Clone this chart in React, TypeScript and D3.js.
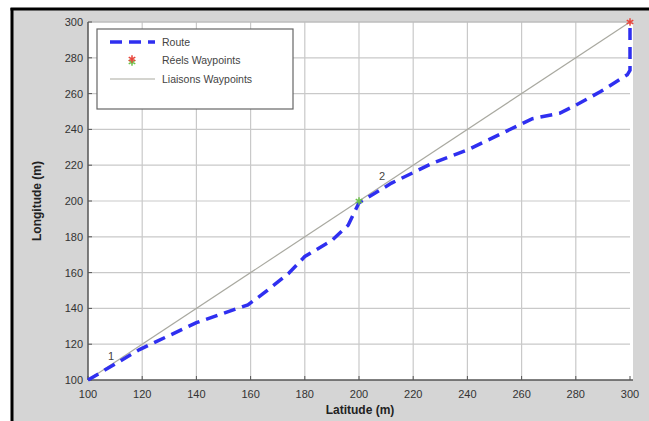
import React, { useEffect, useRef } from "react";
import * as d3 from "d3";

// Route followed between waypoints (latitude, longitude in metres)
const routeLat = [100, 119, 140, 159, 164, 174, 180, 190, 196, 200, 212, 227, 240, 253, 264, 274, 280, 289, 299, 300, 300];
const routeLon = [100, 117, 132, 142, 147.5, 159.5, 169, 178, 186.5, 199, 210, 221, 228.5, 238, 246, 249, 253.5, 261, 270.5, 273, 300];

// Straight links between waypoints
const linkLat = [100, 200, 300];
const linkLon = [100, 200, 300];

// Actual waypoints
const realLat = [200, 300];
const realLon = [200, 300];
const realColor = ["#6cc24a", "#e8453c"];

// Waypoint labels
const wpLabels = ["1", "2"];
const wpLabelLat = [108.5, 208.5];
const wpLabelLon = [113.5, 214];

const xTicks = [100, 120, 140, 160, 180, 200, 220, 240, 260, 280, 300];
const yTicks = [100, 120, 140, 160, 180, 200, 220, 240, 260, 280, 300];

const legendLabels = ["Route", "Réels Waypoints", "Liaisons Waypoints"];

const W = 649;
const H = 421;
const FONT = "'Liberation Sans', Arial, sans-serif";

export default function App() {
  const ref = useRef<SVGSVGElement>(null);

  useEffect(() => {
    document.body.style.margin = "0";
    const svg = d3.select(ref.current);
    svg.selectAll("*").remove();

    const x = d3.scaleLinear().domain([100, 300]).range([88, 630]);
    const y = d3.scaleLinear().domain([100, 300]).range([380, 22]);

    // figure background and frame
    svg.append("rect").attr("width", W).attr("height", H).attr("fill", "#ffffff");
    svg.append("rect").attr("x", 12).attr("y", 9).attr("width", W - 12).attr("height", H - 9).attr("fill", "#d5d5d5");
    svg.append("line").attr("x1", 12).attr("x2", 12).attr("y1", 8).attr("y2", H).attr("stroke", "#000").attr("stroke-width", 3);
    svg.append("line").attr("x1", 10.5).attr("x2", W).attr("y1", 9).attr("y2", 9).attr("stroke", "#000").attr("stroke-width", 3);

    // axes area
    svg.append("rect")
      .attr("x", x(100)).attr("y", y(300))
      .attr("width", x(300) - x(100) + 3).attr("height", y(100) - y(300))
      .attr("fill", "#ffffff");

    // grid
    const grid = svg.append("g");
    grid.selectAll("line.gx").data(xTicks.slice(1, -1)).join("line")
      .attr("x1", (d) => x(d)).attr("x2", (d) => x(d))
      .attr("y1", y(300)).attr("y2", y(100))
      .attr("stroke", "#c9c9c9").attr("stroke-width", 1.2);
    grid.selectAll("line.gy").data(yTicks.slice(1, -1)).join("line")
      .attr("x1", x(100)).attr("x2", x(300))
      .attr("y1", (d) => y(d)).attr("y2", (d) => y(d))
      .attr("stroke", "#c9c9c9").attr("stroke-width", 1.2);

    // axes box
    svg.append("line").attr("x1", x(100)).attr("x2", x(300) + 3).attr("y1", y(300)).attr("y2", y(300)).attr("stroke", "#bdbdbd").attr("stroke-width", 1.5);
    svg.append("line").attr("x1", x(100)).attr("x2", x(300) + 3).attr("y1", y(100)).attr("y2", y(100)).attr("stroke", "#555").attr("stroke-width", 1.5);
    svg.append("line").attr("x1", x(100)).attr("x2", x(100)).attr("y1", y(300)).attr("y2", y(100)).attr("stroke", "#555").attr("stroke-width", 1.5);

    // ticks
    svg.append("g").selectAll("line").data(xTicks).join("line")
      .attr("x1", (d) => x(d)).attr("x2", (d) => x(d))
      .attr("y1", y(100)).attr("y2", y(100) - 4)
      .attr("stroke", "#555");
    svg.append("g").selectAll("line").data(yTicks).join("line")
      .attr("x1", x(100)).attr("x2", x(100) + 4)
      .attr("y1", (d) => y(d)).attr("y2", (d) => y(d))
      .attr("stroke", "#555");

    // tick labels
    svg.append("g").selectAll("text").data(xTicks).join("text")
      .attr("x", (d) => x(d)).attr("y", 398)
      .attr("text-anchor", "middle")
      .attr("font-family", FONT).attr("font-size", 11).attr("fill", "#333")
      .text((d) => d);
    svg.append("g").selectAll("text").data(yTicks).join("text")
      .attr("x", 83).attr("y", (d) => y(d) + 4)
      .attr("text-anchor", "end")
      .attr("font-family", FONT).attr("font-size", 11).attr("fill", "#333")
      .text((d) => d);

    // axis titles
    svg.append("text")
      .attr("x", 360).attr("y", 414)
      .attr("text-anchor", "middle")
      .attr("font-family", FONT).attr("font-size", 12).attr("font-weight", "bold").attr("fill", "#222")
      .text("Latitude (m)");
    svg.append("text")
      .attr("transform", `translate(41,${y(200)}) rotate(-90)`)
      .attr("text-anchor", "middle")
      .attr("font-family", FONT).attr("font-size", 12).attr("font-weight", "bold").attr("fill", "#222")
      .text("Longitude (m)");

    // link lines between waypoints
    const linkLine = d3.line<number>().x((d, i) => x(linkLat[i])).y((d, i) => y(linkLon[i]));
    svg.append("path").attr("d", linkLine(linkLon) || "")
      .attr("fill", "none").attr("stroke", "#a9a9a0").attr("stroke-width", 1.2);

    // route
    const routeLine = d3.line<number>().x((d, i) => x(routeLat[i])).y((d, i) => y(routeLon[i]));
    svg.append("path").attr("d", routeLine(routeLon) || "")
      .attr("fill", "none").attr("stroke", "#2f2ff0").attr("stroke-width", 3.5)
      .attr("stroke-dasharray", "12,7");

    // actual waypoints
    const star = d3.symbol().type(d3.symbolAsterisk).size(40);
    svg.append("g").selectAll("path").data(realLat).join("path")
      .attr("transform", (d, i) => `translate(${x(d)},${y(realLon[i])})`)
      .attr("d", star() || "")
      .attr("fill", "none")
      .attr("stroke", (d, i) => realColor[i]).attr("stroke-width", 1.5);

    // waypoint labels
    svg.append("g").selectAll("text").data(wpLabels).join("text")
      .attr("x", (d, i) => x(wpLabelLat[i])).attr("y", (d, i) => y(wpLabelLon[i]) + 4)
      .attr("text-anchor", "middle")
      .attr("font-family", FONT).attr("font-size", 11).attr("fill", "#444")
      .text((d) => d);

    // legend
    const lg = svg.append("g");
    lg.append("rect").attr("x", 97).attr("y", 29).attr("width", 196).attr("height", 80)
      .attr("fill", "#fff").attr("stroke", "#666").attr("stroke-width", 1.2);
    const rowY = [42, 60, 79];
    lg.append("line").attr("x1", 110).attr("x2", 155).attr("y1", rowY[0]).attr("y2", rowY[0])
      .attr("stroke", "#2f2ff0").attr("stroke-width", 3.5).attr("stroke-dasharray", "12,7");
    lg.append("path").attr("transform", `translate(132,${rowY[1] + 2})`).attr("d", star() || "")
      .attr("fill", "none").attr("stroke", realColor[0]).attr("stroke-width", 1.5);
    lg.append("path").attr("transform", `translate(132,${rowY[1] - 1})`).attr("d", star() || "")
      .attr("fill", "none").attr("stroke", realColor[1]).attr("stroke-width", 1.5);
    lg.append("line").attr("x1", 110).attr("x2", 155).attr("y1", rowY[2]).attr("y2", rowY[2])
      .attr("stroke", "#a9a9a0").attr("stroke-width", 1.2);
    lg.selectAll("text").data(legendLabels).join("text")
      .attr("x", 162).attr("y", (d, i) => rowY[i] + 4)
      .attr("font-family", FONT).attr("font-size", 10.5).attr("fill", "#444")
      .text((d) => d);
  }, []);

  return (
    <svg
      ref={ref}
      width={W}
      height={H}
      style={{ position: "absolute", left: 0, top: 0, display: "block" }}
    />
  );
}
